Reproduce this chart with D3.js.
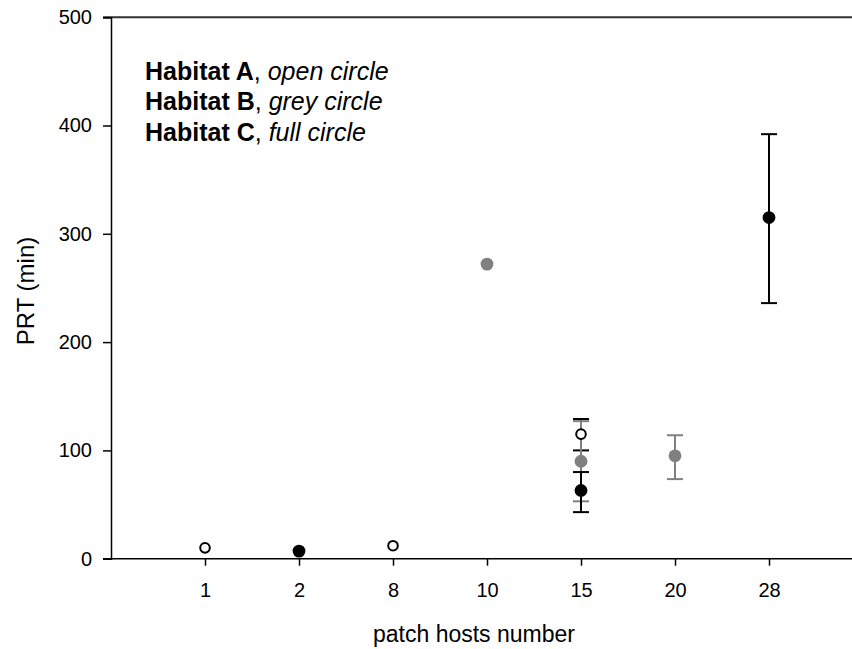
<!DOCTYPE html>
<html>
<head>
<meta charset="utf-8">
<script src="https://cdn.jsdelivr.net/npm/d3@7"></script>
<style>
  html, body { margin: 0; padding: 0; background: #fff; }
  svg { display: block; font-family: "Liberation Sans", Arial, Helvetica, sans-serif; }
</style>
</head>
<body>
<svg id="chart" width="852" height="649"></svg>
<script>
// ---- data ----
const categories = ["1", "2", "8", "10", "15", "20", "28"];
const yTicks = [0, 100, 200, 300, 400, 500];

const habitatA_x = ["1", "8", "15"];
const habitatA_y = [10, 12, 115];
const habitatA_lo = [null, null, 100];
const habitatA_hi = [null, null, 129];

const habitatB_x = ["10", "15", "20"];
const habitatB_y = [272, 90, 95];
const habitatB_lo = [null, 53, 73.5];
const habitatB_hi = [null, 127, 114];

const habitatC_x = ["2", "15", "28"];
const habitatC_y = [7, 63, 315];
const habitatC_lo = [null, 43, 236];
const habitatC_hi = [null, 80, 392];

const legendBold = ["Habitat A", "Habitat B", "Habitat C"];
const legendItalic = ["open circle", "grey circle", "full circle"];

(function () {
// ---- layout ----
const svg = d3.select("#chart");
const mLeft = 111, mRight = 863, mTop = 17.2, mBottom = 558.7;

const x = d3.scalePoint().domain(categories).range([mLeft, mRight]).padding(1);
const y = d3.scaleLinear().domain([0, 500]).range([mBottom, mTop]);

// top frame line
svg.append("line")
  .attr("x1", mLeft - 8).attr("x2", 852)
  .attr("y1", y(500)).attr("y2", y(500))
  .attr("stroke", "#333").attr("stroke-width", 2);

// y axis
const yAxis = svg.append("g")
  .attr("transform", `translate(${mLeft},0)`)
  .call(d3.axisLeft(y).tickValues(yTicks).tickSize(8).tickPadding(11));
yAxis.select(".domain").attr("stroke", "#000").attr("stroke-width", 1.5);
yAxis.selectAll(".tick line").attr("stroke", "#000").attr("stroke-width", 1.5);
yAxis.selectAll(".tick text").attr("font-size", 20).attr("fill", "#000")
  .attr("font-family", "Liberation Sans, Arial, sans-serif");

// x axis
const xAxis = svg.append("g")
  .attr("transform", `translate(0,${mBottom})`)
  .call(d3.axisBottom(x).tickSize(7).tickPadding(17));
xAxis.select(".domain").attr("stroke", "#000").attr("stroke-width", 1.5)
  .attr("d", `M${mLeft - 8},0H852`);
xAxis.selectAll(".tick line").attr("stroke", "#000").attr("stroke-width", 1.5);
xAxis.selectAll(".tick text").attr("font-size", 20).attr("fill", "#000")
  .attr("font-family", "Liberation Sans, Arial, sans-serif");

// axis titles
svg.append("text")
  .attr("x", 474).attr("y", 642)
  .attr("text-anchor", "middle")
  .attr("font-size", 23)
  .text("patch hosts number");

svg.append("text")
  .attr("transform", `translate(34,291) rotate(-90)`)
  .attr("text-anchor", "middle")
  .attr("font-size", 24)
  .text("PRT (min)");

// ---- series ----
const series = [
  { xs: habitatA_x, ys: habitatA_y, lo: habitatA_lo, hi: habitatA_hi, fill: "#fff", stroke: "#000", bar: "#000", open: true },
  { xs: habitatB_x, ys: habitatB_y, lo: habitatB_lo, hi: habitatB_hi, fill: "#808080", stroke: "none", bar: "#808080", open: false },
  { xs: habitatC_x, ys: habitatC_y, lo: habitatC_lo, hi: habitatC_hi, fill: "#000", stroke: "none", bar: "#000", open: false }
];

const capHalf = 8;
series.forEach(s => {
  const g = svg.append("g");
  s.xs.forEach((c, i) => {
    if (s.lo[i] == null) return;
    const cx = x(c);
    g.append("line").attr("x1", cx).attr("x2", cx)
      .attr("y1", y(s.lo[i])).attr("y2", y(s.hi[i]))
      .attr("stroke", s.bar).attr("stroke-width", 2);
    [s.lo[i], s.hi[i]].forEach(v => {
      g.append("line").attr("x1", cx - capHalf).attr("x2", cx + capHalf)
        .attr("y1", y(v)).attr("y2", y(v))
        .attr("stroke", s.bar).attr("stroke-width", 2);
    });
  });
});

series.forEach(s => {
  svg.append("g").selectAll("circle")
    .data(s.xs.map((c, i) => ({ c, v: s.ys[i] })))
    .join("circle")
    .attr("cx", d => x(d.c))
    .attr("cy", d => y(d.v))
    .attr("r", s.open ? 4.8 : 6.4)
    .attr("fill", s.fill)
    .attr("stroke", s.stroke)
    .attr("stroke-width", s.open ? 2 : 0);
});

// ---- legend text ----
const legendY = [80, 110, 141];
legendBold.forEach((b, i) => {
  const t = svg.append("text")
    .attr("x", 145).attr("y", legendY[i])
    .attr("font-size", 25).attr("fill", "#000");
  t.append("tspan").attr("font-weight", "bold").text(b);
  t.append("tspan").text(", ");
  t.append("tspan").attr("font-style", "italic").text(legendItalic[i]);
});
})();
</script>
</body>
</html>
